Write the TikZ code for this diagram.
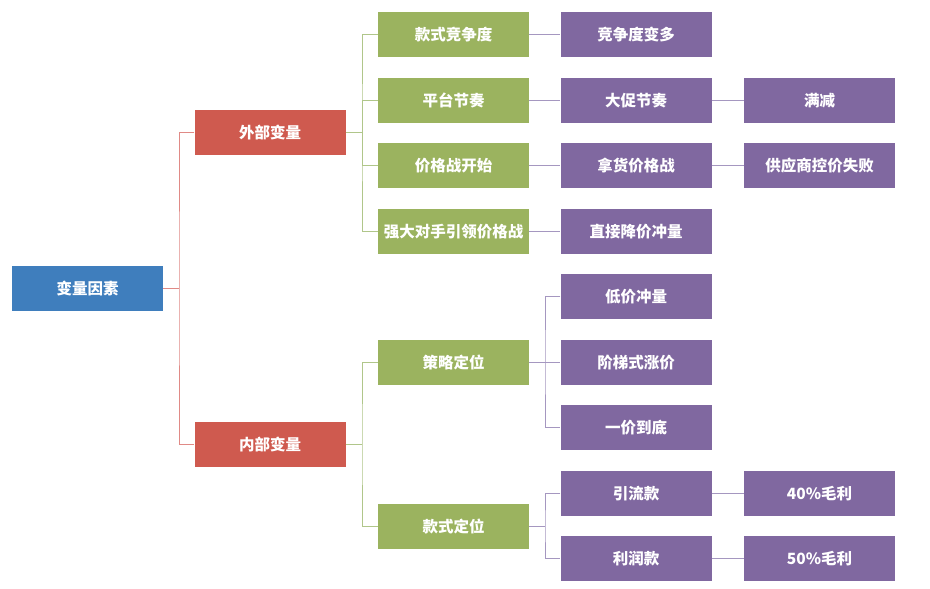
\documentclass[tikz,border=0pt]{standalone}
\usepackage{fontspec}
\setmainfont{Noto Sans CJK SC}
\begin{document}
\begin{tikzpicture}[x=1pt,y=-1pt,
  box/.style={rectangle,minimum width=151pt,minimum height=45pt,inner sep=0pt,
    text=white,font=\fontsize{15.5}{18}\selectfont\bfseries,anchor=center},
  rootbox/.style={box,fill=rootblue},
  l1box/.style={box,fill=l1red},
  l2box/.style={box,fill=l2green},
  l3box/.style={box,fill=l3purple},
  redline/.style={draw=linered,line width=1pt},
  greenline/.style={draw=linegreen,line width=1pt},
  purpleline/.style={draw=linepurple,line width=1pt}]
\definecolor{rootblue}{HTML}{3F7EBD}
\definecolor{l1red}{HTML}{CF5A4F}
\definecolor{l2green}{HTML}{9BB35F}
\definecolor{l3purple}{HTML}{8068A0}
\definecolor{linered}{HTML}{E08A86}
\definecolor{linegreen}{HTML}{B0C68A}
\definecolor{linepurple}{HTML}{A597C0}
\useasboundingbox[fill=white] (0,0) rectangle (930,589);

\node[rootbox] (root) at (87.5,288.5) {变量因素};
\node[l1box] (ext) at (270,132.5) {外部变量};
\node[l1box] (int) at (270,444.5) {内部变量};

\node[l2box] (g1) at (453.5,34.5) {款式竞争度};
\node[l2box] (g2) at (453.5,100.5) {平台节奏};
\node[l2box] (g3) at (453.5,165.5) {价格战开始};
\node[l2box] (g4) at (453.5,231.5) {强大对手引领价格战};
\node[l2box] (g5) at (453.5,362.5) {策略定位};
\node[l2box] (g6) at (453.5,526.5) {款式定位};

\node[l3box] (p1) at (636,34.5) {竞争度变多};
\node[l3box] (p2) at (636,100.5) {大促节奏};
\node[l3box] (p3) at (636,165.5) {拿货价格战};
\node[l3box] (p4) at (636,231.5) {直接降价冲量};
\node[l3box] (p5) at (636,296.5) {低价冲量};
\node[l3box] (p6) at (636,362.5) {阶梯式涨价};
\node[l3box] (p7) at (636,427.5) {一价到底};
\node[l3box] (p8) at (636,493.5) {引流款};
\node[l3box] (p9) at (636,558.5) {利润款};

\node[l3box] (q2) at (819.5,100.5) {满减};
\node[l3box] (q3) at (819.5,165.5) {供应商控价失败};
\node[l3box] (q8) at (819.5,493.5) {40\%毛利};
\node[l3box] (q9) at (819.5,558.5) {50\%毛利};

% root -> level 1
\coordinate (rj) at (179,288.5);
\draw[redline] (root.east) -- (rj);
\draw[redline] (ext.west) -| (rj) |- (int.west);

% ext -> green
\coordinate (ej) at (362,132.5);
\draw[greenline] (ext.east) -- (ej);
\draw[greenline] (g1.west) -| (ej) |- (g4.west);
\draw[greenline] (ej) |- (g2.west);
\draw[greenline] (ej) |- (g3.west);

% int -> green
\coordinate (ij) at (362,444.5);
\draw[greenline] (int.east) -- (ij);
\draw[greenline] (g5.west) -| (ij) |- (g6.west);

% green -> purple
\draw[purpleline] (g1.east) -- (p1.west);
\draw[purpleline] (g2.east) -- (p2.west);
\draw[purpleline] (g3.east) -- (p3.west);
\draw[purpleline] (g4.east) -- (p4.west);
\coordinate (sj) at (545,362.5);
\draw[purpleline] (g5.east) -- (p6.west);
\draw[purpleline] (p5.west) -| (sj) |- (p7.west);
\coordinate (kj) at (545,526.5);
\draw[purpleline] (g6.east) -- (kj);
\draw[purpleline] (p8.west) -| (kj) |- (p9.west);

% purple -> purple
\draw[purpleline] (p2.east) -- (q2.west);
\draw[purpleline] (p3.east) -- (q3.west);
\draw[purpleline] (p8.east) -- (q8.west);
\draw[purpleline] (p9.east) -- (q9.west);
\end{tikzpicture}
\end{document}
